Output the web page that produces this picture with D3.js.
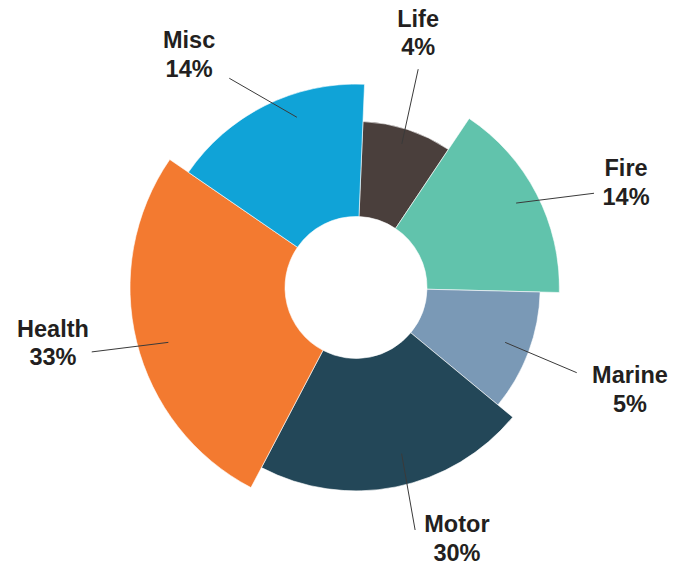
<!DOCTYPE html>
<html>
<head>
<meta charset="utf-8">
<script src="https://cdn.jsdelivr.net/npm/d3@7"></script>
<style>
  html, body { margin: 0; padding: 0; background: #ffffff; }
  svg { display: block; }
  text { font-family: "Liberation Sans", Arial, Helvetica, sans-serif; font-weight: bold; fill: #231f20; }
</style>
</head>
<body>
<svg id="chart" width="683" height="566"></svg>
<script>
// ---- data ----
const categories   = ["Life", "Fire", "Marine", "Motor", "Health", "Misc"];
const shareLabels  = ["4%", "14%", "5%", "30%", "33%", "14%"];
const angleValues  = [31.4, 57.6, 38.2, 78.1, 96.8, 57.9];   // slice sweep
const radiusValues = [73.5, 90, 81.5, 90, 100, 90];          // relative slice depth
const colors       = ["#4a3f3c", "#61c3ac", "#7a99b6", "#234758", "#f37a30", "#10a3d7"];

// ---- layout (styling, not data) ----
const W = 683, H = 566;
const cx = 356, cy = 287.5;
const innerR = 71;
const maxOuter = 226;
const startDeg = 2.4;
const fontSize = 23.5, lineGap = 28.6;
// leader nudges: start angle offset from slice mid (deg), start radius fraction, end polar, label polar
const labelLayout = {
  Life:   { da: -0.4, f: 0.907, a1: 15.9,  r1: 227,   la: 13.4,  lr: 268.1 },
  Fire:   { da: -0.4, f: 0.890, a1: 68.4,  r1: 256,   la: 67.6,  lr: 292.1 },
  Marine: { da: -0.3, f: 0.863, a1: 111.1, r1: 236.6, la: 109.3, lr: 290.3 },
  Motor:  { da: -4.0, f: 0.847, a1: 166.3, r1: 249.6, la: 157.6, lr: 264.8 },
  Health: { da: -2.4, f: 0.865, a1: 256.3, r1: 272,   la: 260.8, lr: 307 },
  Misc:   { da: 7.4,  f: 0.886, a1: 328.8, r1: 244.6, la: 325.1, lr: 291.7 }
};

const rad = d => d * Math.PI / 180;
const deg = r => r * 180 / Math.PI;
const polar = (aDeg, r) => [cx + r * Math.sin(rad(aDeg)), cy - r * Math.cos(rad(aDeg))];

const rows = categories.map((c, i) => ({
  cat: c, label: shareLabels[i], a: angleValues[i], r: radiusValues[i], color: colors[i]
}));

const rScale = d3.scaleLinear().domain([0, 100]).range([0, maxOuter]);
const pie = d3.pie().sort(null).value(d => d.a)
  .startAngle(rad(startDeg)).endAngle(rad(startDeg) + 2 * Math.PI);
const arcs = pie(rows);

const arc = d3.arc()
  .innerRadius(innerR)
  .outerRadius(d => rScale(d.data.r));

const svg = d3.select("#chart");
const g = svg.append("g").attr("transform", `translate(${cx},${cy})`);

g.selectAll("path.slice")
  .data(arcs)
  .join("path")
  .attr("class", "slice")
  .attr("d", arc)
  .attr("fill", d => d.data.color)
  .attr("stroke", "#ffffff")
  .attr("stroke-width", 0.6);

// leader lines
const leaders = svg.append("g");
arcs.forEach(d => {
  const L = labelLayout[d.data.cat];
  const mid = deg((d.startAngle + d.endAngle) / 2);
  const p0 = polar(mid + L.da, rScale(d.data.r) * L.f);
  const p1 = polar(L.a1, L.r1);
  leaders.append("line")
    .attr("x1", p0[0]).attr("y1", p0[1])
    .attr("x2", p1[0]).attr("y2", p1[1])
    .attr("stroke", "#3a3a3a")
    .attr("stroke-width", 1);
});

// labels
const labels = svg.append("g");
arcs.forEach(d => {
  const L = labelLayout[d.data.cat];
  const p = polar(L.la, L.lr);
  const t = labels.append("text")
    .attr("x", p[0]).attr("y", p[1])
    .attr("text-anchor", "middle")
    .style("font-size", fontSize + "px");
  t.append("tspan").attr("x", p[0]).attr("y", p[1]).text(d.data.cat);
  t.append("tspan").attr("x", p[0]).attr("y", p[1] + lineGap).text(d.data.label);
});
</script>
</body>
</html>
